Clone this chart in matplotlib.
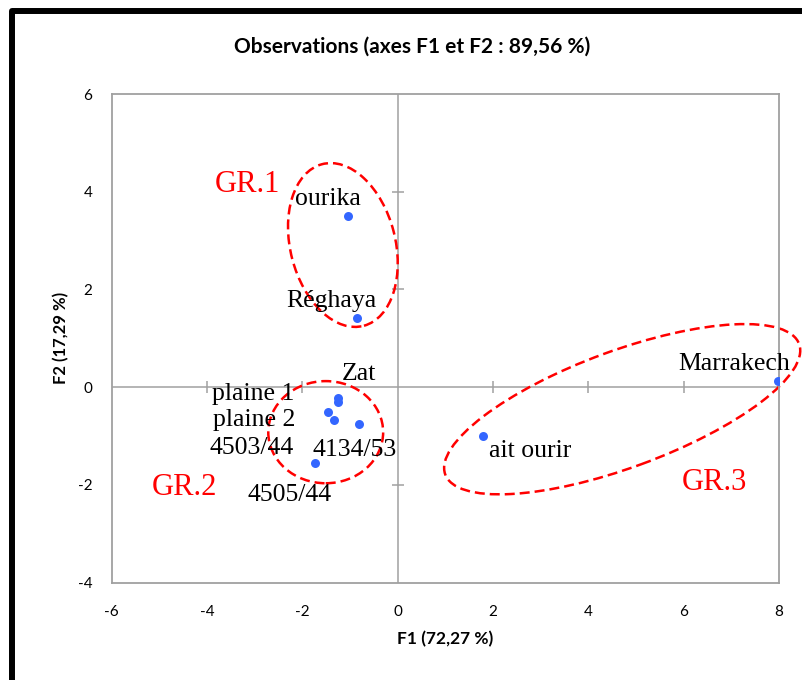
import matplotlib.pyplot as plt
from matplotlib.patches import Ellipse
from matplotlib.lines import Line2D

plt.rcParams['axes.unicode_minus'] = False

# ACP : coordonnées des observations sur F1 / F2
stations = ['ourika', 'Réghaya', 'Marrakech', 'ait ourir', 'Zat',
            'plaine 1', 'plaine 2', '4503/44', '4134/53', '4505/44']
f1 = [-1.04, -0.86, 7.98, 1.78, -1.26, -1.26, -1.47, -1.34, -0.81, -1.74]
f2 = [3.50, 1.42, 0.13, -1.00, -0.23, -0.30, -0.51, -0.67, -0.76, -1.56]

# décalage des étiquettes (pixels)
offsets = [(-20, 11), (-25, 11), (-44, 11), (48, -21), (21, 18),
           (-84, 2), (-73, -14), (-82, -34), (-4, -32), (-25, -38)]

# groupes : centre, largeur, hauteur, angle, position de l'étiquette
groups = ['GR.1', 'GR.2', 'GR.3']
grp_center = [(-1.15, 2.91), (-1.51, -0.92), (4.71, -0.45)]
grp_size = [(2.20, 3.42, 15), (2.41, 2.09, 0), (7.89, 2.39, 19.7)]
grp_label = [(-3.15, 4.0), (-4.48, -2.21), (6.64, -2.10)]

fig = plt.figure(figsize=(8.03, 6.80), dpi=100)
ax = fig.add_axes([111.7 / 803, 1 - 582.7 / 680, 667.3 / 803, 488.7 / 680])

ax.set_xlim(-6, 8)
ax.set_ylim(-4, 6)
ax.set_xticks(range(-6, 9, 2))
ax.set_yticks(range(-4, 7, 2))
ax.tick_params(length=0, labelsize=11)
ax.tick_params(axis='x', pad=16)
ax.tick_params(axis='y', pad=14)
for lab in ax.get_xticklabels() + ax.get_yticklabels():
    lab.set_fontfamily('Lato')
for sp in ax.spines.values():
    sp.set_color('#a0a0a0')
    sp.set_linewidth(1.3)

# axes passant par l'origine avec graduations
grey = '#a0a0a0'
ax.axhline(0, color=grey, lw=1.1, zorder=1)
ax.axvline(0, color=grey, lw=1.1, zorder=1)
xt = [v for v in range(-4, 8, 2) if v != 0]
yt = [v for v in range(-2, 6, 2) if v != 0]
ax.plot(xt, [0] * len(xt), ls='none', marker='|', ms=8, mec=grey, mew=1.1, zorder=1)
ax.plot([0] * len(yt), yt, ls='none', marker='_', ms=8, mec=grey, mew=1.1, zorder=1)

ax.scatter(f1, f2, s=42, color='#3366ff', zorder=3, linewidths=0)

for name, x, y, off in zip(stations, f1, f2, offsets):
    ax.annotate(name, (x, y), xytext=off, textcoords='offset pixels',
                ha='center', va='baseline', fontsize=18.5,
                family='Liberation Serif', color='black', zorder=4)

for name, c, (w, h, a), lp in zip(groups, grp_center, grp_size, grp_label):
    ax.add_patch(Ellipse(c, w, h, angle=a, fill=False, ec='red', lw=1.8,
                         ls=(0, (4, 2)), clip_on=False, zorder=2))
    ax.text(lp[0], lp[1], name, ha='center', va='baseline', fontsize=22,
            family='Liberation Serif', color='red')

ax.set_xlabel('F1 (72,27 %)', fontsize=12.5, fontweight='bold', family='Lato', labelpad=9)
ax.set_ylabel('F2 (17,29 %)', fontsize=12, fontweight='bold', family='Lato', labelpad=6)

fig.text(412 / 803, 1 - 47 / 680, 'Observations (axes F1 et F2 : 89,56 %)',
         ha='center', va='center', fontsize=15, fontweight='bold', family='Lato')

# cadre noir
fig.add_artist(Line2D([12 / 803, 12 / 803, 1.0], [0.0, 1 - 11 / 680, 1 - 11 / 680],
                      transform=fig.transFigure, color='black', lw=4.3,
                      solid_joinstyle='round'))

fig.savefig('out.png', dpi=100)
